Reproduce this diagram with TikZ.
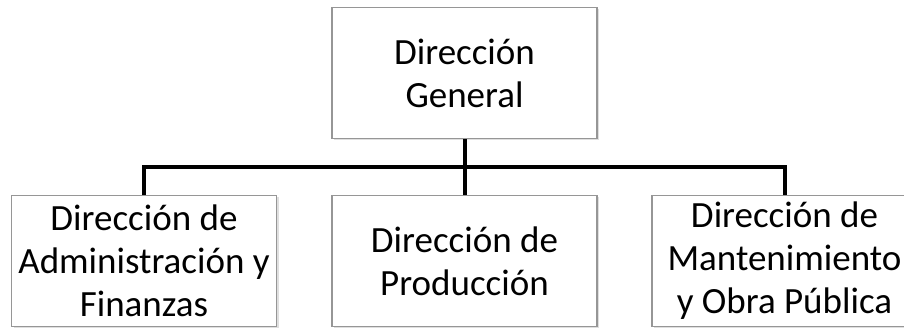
\documentclass[tikz,border=0pt]{standalone}
\usepackage{fontspec}
\setmainfont{Carlito}
\usetikzlibrary{shadows}

\begin{document}
\begin{tikzpicture}[x=1pt, y=1pt,
  unitbox/.style={draw=boxgray, line width=1.5pt, fill=white, rectangle,
    minimum width=265pt, minimum height=131pt, inner sep=0pt, align=center,
    font=\fontsize{37}{43}\selectfont,
    drop shadow={opacity=0.25, shadow xshift=2pt, shadow yshift=-2pt}},
  link/.style={line width=4pt, black}]

\definecolor{boxgray}{RGB}{150, 150, 150}
\useasboundingbox (0,0) rectangle (904,328);

% Draw the units
\node[unitbox] (gen) at (464.5,255) {Dirección\\General};
\node[unitbox] (admin) at (144,67) {Dirección de\\Administración y\\Finanzas};
\node[unitbox] (prod) at (464.5,67) {Dirección de\\Producción};
\node[unitbox] (mant) at (784.5,67) {Dirección de\\Mantenimiento\\y Obra Pública};

% Draw the links
\coordinate (bus) at (464.5,161);
\draw[link] (gen.south) -- (prod.north);
\draw[link] (admin.north) |- (bus) -| (mant.north);

\end{tikzpicture}
\end{document}
